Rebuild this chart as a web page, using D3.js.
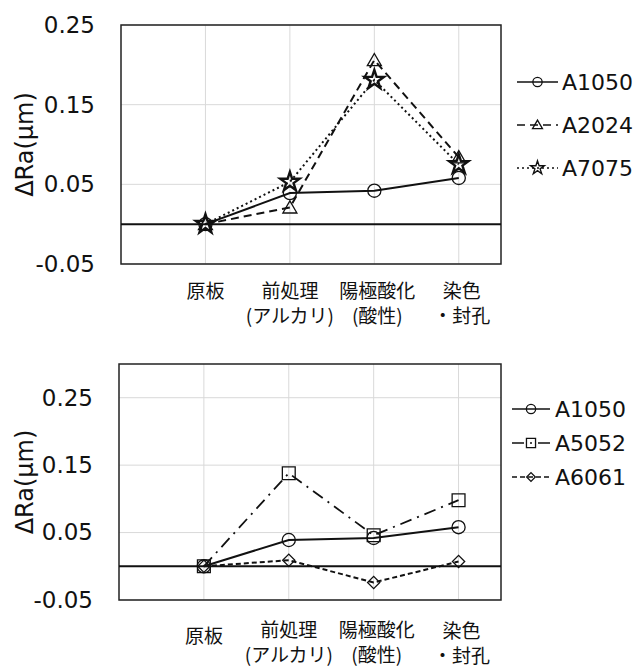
<!DOCTYPE html>
<html>
<head>
<meta charset="utf-8">
<script src="https://cdn.jsdelivr.net/npm/d3@7/dist/d3.min.js"></script>
<style>
  html, body { margin: 0; padding: 0; background: #fff; }
  svg { display: block; }
</style>
</head>
<body>
<svg id="chart" width="640" height="668"></svg>
<script>
// Process steps (x categories), each split into display lines
const categories = [["原板"], ["前処理", "(アルカリ)"], ["陽極酸化", "(酸性)"], ["染色", "・封孔"]];
const yTicks = [-0.05, 0.05, 0.15, 0.25];

// ΔRa (μm) after each step, per alloy
const a1050 = [0, 0.039, 0.042, 0.058];
const a2024 = [0, 0.021, 0.206, 0.084];
const a7075 = [0, 0.053, 0.181, 0.075];
const a5052 = [0, 0.138, 0.046, 0.098];
const a6061 = [0, 0.009, -0.024, 0.007];

const yLabel = "ΔRa(μm)";
const latin = "'DejaVu Sans', Verdana, sans-serif";
const cjk = "'Noto Sans CJK JP', 'Noto Sans', sans-serif";

// Line/marker style per alloy
const styles = {
  A1050: { dash: null, width: 2, symbol: "circle" },
  A2024: { dash: "8,5", width: 2, symbol: "triangle" },
  A7075: { dash: "2,3", width: 2, symbol: "star" },
  A5052: { dash: "12,6,2,6", width: 1.8, symbol: "square" },
  A6061: { dash: "5,3", width: 2, symbol: "diamond" }
};

const panels = [
  {
    series: [["A1050", a1050], ["A2024", a2024], ["A7075", a7075]],
    left: 121, right: 501, top: 25, bottom: 264,
    yDomain: [-0.05, 0.25],
    labelY: [289, 289, 289, 289], lineGap: 25,
    legend: { x0: 517, x1: 558, tx: 562, rows: [82, 125, 168] }
  },
  {
    series: [["A1050", a1050], ["A5052", a5052], ["A6061", a6061]],
    left: 119, right: 501, top: 364, bottom: 600,
    yDomain: [-0.05, 0.30],
    labelY: [634, 628, 628, 629], lineGap: 25,
    legend: { x0: 512, x1: 550, tx: 555, rows: [409, 443, 477] }
  }
];

const svg = d3.select("#chart");

function symbolPath(kind, big) {
  const s = big ? 1 : 0.5;
  switch (kind) {
    case "circle": return d3.symbol(d3.symbolCircle, 135 * s)();
    case "triangle": return d3.symbol(d3.symbolTriangle, 85 * s)();
    case "star": return d3.symbol(d3.symbolStar, 115 * s)();
    case "square": return d3.symbol(d3.symbolSquare, 165 * s)();
    case "diamond": return d3.symbol(d3.symbolSquare, 75 * s)();
  }
}

function drawMarker(g, kind, x, y, big) {
  const p = g.append("path")
    .attr("d", symbolPath(kind, big))
    .attr("fill", "none")
    .attr("stroke", "#111")
    .attr("stroke-width", kind === "star" ? (big ? 2.4 : 1.4) : 1.3);
  const rot = kind === "diamond" ? " rotate(45)" : "";
  const dy = kind === "triangle" ? (big ? 1.5 : 0.8) : 0;
  p.attr("transform", `translate(${x},${y + dy})${rot}`);
}

panels.forEach(P => {
  const g = svg.append("g");
  const x = d3.scaleLinear().domain([0, 4.5]).range([P.left, P.right]);
  const y = d3.scaleLinear().domain(P.yDomain).range([P.bottom, P.top]);
  const idx = d3.range(categories.length);

  // gridlines
  g.append("g").selectAll("line").data(idx).join("line")
    .attr("x1", i => x(i + 1)).attr("x2", i => x(i + 1))
    .attr("y1", P.top).attr("y2", P.bottom)
    .attr("stroke", "#d9d9d9").attr("stroke-width", 1);
  g.append("g").selectAll("line").data(yTicks).join("line")
    .attr("x1", P.left).attr("x2", P.right)
    .attr("y1", d => y(d)).attr("y2", d => y(d))
    .attr("stroke", "#d9d9d9").attr("stroke-width", 1);

  // frame
  g.append("rect")
    .attr("x", P.left).attr("y", P.top)
    .attr("width", P.right - P.left).attr("height", P.bottom - P.top)
    .attr("fill", "none").attr("stroke", "#222").attr("stroke-width", 1.5);

  // zero line
  g.append("line")
    .attr("x1", P.left).attr("x2", P.right)
    .attr("y1", y(0)).attr("y2", y(0))
    .attr("stroke", "#111").attr("stroke-width", 2);

  // y axis tick labels
  const ax = g.append("g")
    .attr("transform", `translate(${P.left},0)`)
    .call(d3.axisLeft(y).tickValues(yTicks).tickSize(0).tickPadding(26)
      .tickFormat(d => d.toFixed(2)));
  ax.select(".domain").remove();
  ax.selectAll("text")
    .attr("font-family", latin).attr("font-size", 23).attr("fill", "#111");

  // y axis title
  g.append("text")
    .attr("transform", `translate(25,${(P.top + P.bottom) / 2}) rotate(-90)`)
    .attr("text-anchor", "middle").attr("dominant-baseline", "central")
    .attr("font-family", latin).attr("font-size", 24).attr("fill", "#111")
    .text(yLabel);

  // category labels, one text per line
  idx.forEach(i => {
    categories[i].forEach((line, k) => {
      g.append("text")
        .attr("text-anchor", "middle")
        .attr("font-family", cjk).attr("font-size", 19).attr("fill", "#111")
        .attr("x", x(i + 1) + (i >= 2 ? 3 : 0))
        .attr("y", P.labelY[i] + k * P.lineGap)
        .attr("dominant-baseline", "central")
        .text(line);
    });
  });

  // series lines
  const line = d3.line().x((d, i) => x(i + 1)).y(d => y(d));
  P.series.forEach(([name, vals]) => {
    const st = styles[name];
    g.append("path")
      .attr("d", line(vals))
      .attr("fill", "none").attr("stroke", "#111")
      .attr("stroke-width", st.width)
      .attr("stroke-dasharray", st.dash);
  });
  // markers
  P.series.forEach(([name, vals]) => {
    const st = styles[name];
    vals.forEach((v, i) => drawMarker(g, st.symbol, x(i + 1), y(v), true));
  });

  // legend
  const L = P.legend;
  P.series.forEach(([name], r) => {
    const st = styles[name];
    const ly = L.rows[r];
    g.append("line")
      .attr("x1", L.x0).attr("x2", L.x1).attr("y1", ly).attr("y2", ly)
      .attr("stroke", "#111").attr("stroke-width", 1.6)
      .attr("stroke-dasharray", st.dash);
    drawMarker(g, st.symbol, (L.x0 + L.x1) / 2, ly, false);
    g.append("text")
      .attr("x", L.tx).attr("y", ly)
      .attr("dominant-baseline", "central")
      .attr("font-family", latin).attr("font-size", 22).attr("fill", "#111")
      .text(name);
  });
});
</script>
</body>
</html>
